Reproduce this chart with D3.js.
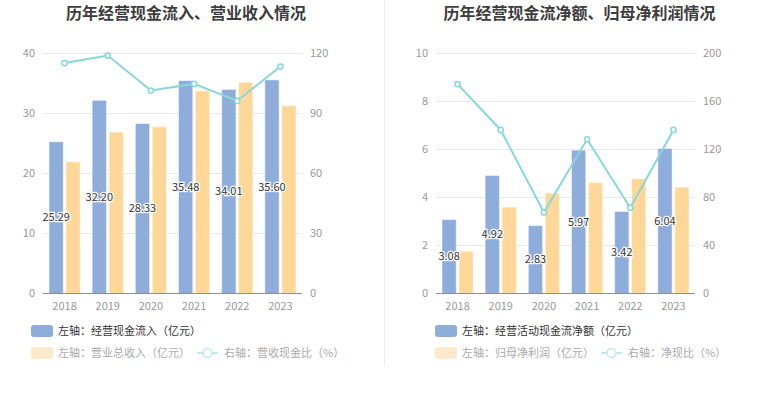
<!DOCTYPE html>
<html>
<head>
<meta charset="utf-8">
<script src="https://cdn.jsdelivr.net/npm/d3@7"></script>
<style>
  body { margin: 0; background: #fff; }
  svg text { font-family: "Noto Sans CJK SC", "Noto Sans", sans-serif; }
</style>
</head>
<body>
<div id="chart"></div>
<script>
// data
var years = ["2018", "2019", "2020", "2021", "2022", "2023"];

// left chart
var cashIn = [25.29, 32.20, 28.33, 35.48, 34.01, 35.60];
var revenue = [21.95, 26.9, 27.8, 33.8, 35.2, 31.3];
var cashRatio = [115.2, 119.0, 101.5, 104.8, 96.3, 113.5];
var leftTicksL = [0, 10, 20, 30, 40];
var leftTicksR = [0, 30, 60, 90, 120];

// right chart
var netCash = [3.08, 4.92, 2.83, 5.97, 3.42, 6.04];
var netProfit = [1.76, 3.60, 4.18, 4.62, 4.78, 4.43];
var netRatio = [174.5, 136.3, 67.6, 128.5, 71.5, 136.3];
var rightTicksL = [0, 2, 4, 6, 8, 10];
var rightTicksR = [0, 40, 80, 120, 160, 200];

var blue = "#8eaddb", orange = "#ffd899", teal = "#88d7da";

var svg = d3.select("#chart")
  .append("svg")
    .attr("width", 765)
    .attr("height", 393);

// separator
svg.append("line")
  .attr("x1", 384.5).attr("x2", 384.5)
  .attr("y1", 0).attr("y2", 366)
  .style("stroke", "#eeeeee");

function drawPanel(p) {
  var g = svg.append("g");

  // title
  g.append("text")
    .attr("x", p.titleX).attr("y", 19)
    .style("text-anchor", "middle")
    .style("font-size", "16px")
    .style("font-weight", "bold")
    .style("fill", "#3d3d3d")
    .text(p.title);

  var x = d3.scaleBand()
    .domain(years)
    .range([p.x0, p.x1]);

  var yl = d3.scaleLinear()
    .domain([0, d3.max(p.ticksL)])
    .range([293.5, 53.5]);

  var yr = d3.scaleLinear()
    .domain([0, d3.max(p.ticksR)])
    .range([293.5, 53.5]);

  var inner = d3.scaleBand()
    .domain(["a", "b"])
    .range([-15.6, 15.6])
    .paddingInner(0.154);

  // grid
  g.selectAll(".grid")
    .data(p.ticksL.slice(1))
    .enter()
    .append("line")
      .attr("x1", p.x0).attr("x2", p.x1)
      .attr("y1", function(d) { return yl(d); })
      .attr("y2", function(d) { return yl(d); })
      .style("stroke", "#e4e8f1");

  // left axis labels
  g.append("g").selectAll("text")
    .data(p.ticksL)
    .enter()
    .append("text")
      .attr("x", p.x0 - 8)
      .attr("y", function(d) { return yl(d); })
      .attr("dy", "0.35em")
      .style("text-anchor", "end")
      .style("font-size", "11px")
      .style("fill", "#999")
      .text(function(d) { return d; });

  // right axis labels
  g.append("g").selectAll("text")
    .data(p.ticksR)
    .enter()
    .append("text")
      .attr("x", p.x1 + 8)
      .attr("y", function(d) { return yr(d); })
      .attr("dy", "0.35em")
      .style("text-anchor", "start")
      .style("font-size", "11px")
      .style("fill", "#999")
      .text(function(d) { return d; });

  // bars
  var rows = years.map(function(y, i) {
    return {year: y, a: p.barA[i], b: p.barB[i], r: p.line[i]};
  });

  g.append("g").selectAll("rect")
    .data(rows)
    .enter()
    .append("rect")
      .attr("x", function(d) { return x(d.year) + x.bandwidth() / 2 + inner("a"); })
      .attr("y", function(d) { return yl(d.a); })
      .attr("width", inner.bandwidth())
      .attr("height", function(d) { return yl(0) - yl(d.a); })
      .style("fill", blue)
      .style("stroke", "rgba(255,255,255,0.5)");

  g.append("g").selectAll("rect")
    .data(rows)
    .enter()
    .append("rect")
      .attr("x", function(d) { return x(d.year) + x.bandwidth() / 2 + inner("b"); })
      .attr("y", function(d) { return yl(d.b); })
      .attr("width", inner.bandwidth())
      .attr("height", function(d) { return yl(0) - yl(d.b); })
      .style("fill", orange)
      .style("stroke", "rgba(255,255,255,0.5)");

  // x axis line
  g.append("line")
    .attr("x1", p.x0).attr("x2", p.x1)
    .attr("y1", yl(0)).attr("y2", yl(0))
    .style("stroke", "#8a8e96");

  // year labels
  g.append("g").selectAll("text")
    .data(years)
    .enter()
    .append("text")
      .attr("x", function(d) { return x(d) + x.bandwidth() / 2; })
      .attr("y", 306)
      .attr("dy", "0.35em")
      .style("text-anchor", "middle")
      .style("font-size", "11px")
      .style("fill", "#999")
      .text(function(d) { return d; });

  // ratio line
  var line = d3.line()
    .x(function(d) { return x(d.year) + x.bandwidth() / 2; })
    .y(function(d) { return yr(d.r); });

  g.append("path")
    .datum(rows)
    .attr("d", line)
    .style("fill", "none")
    .style("stroke", teal)
    .style("stroke-width", 2);

  g.append("g").selectAll("circle")
    .data(rows)
    .enter()
    .append("circle")
      .attr("cx", function(d) { return x(d.year) + x.bandwidth() / 2; })
      .attr("cy", function(d) { return yr(d.r); })
      .attr("r", 2.6)
      .style("fill", "#fff")
      .style("stroke", teal)
      .style("stroke-width", 1.5);

  // bar labels
  g.append("g").selectAll("text")
    .data(rows)
    .enter()
    .append("text")
      .attr("x", function(d) { return x(d.year) + x.bandwidth() / 2 + inner("a") + inner.bandwidth() / 2; })
      .attr("y", function(d) { return (yl(d.a) + yl(0)) / 2; })
      .attr("dy", "0.35em")
      .style("text-anchor", "middle")
      .style("font-size", "11px")
      .style("fill", "#333")
      .style("stroke", "#fff")
      .style("stroke-width", 2.5)
      .style("paint-order", "stroke")
      .text(function(d) { return d.a.toFixed(2); });

  // legend
  var lx = p.legendX;
  g.append("rect")
    .attr("x", lx).attr("y", 325)
    .attr("width", 22).attr("height", 12)
    .attr("rx", 3)
    .style("fill", blue);
  g.append("text")
    .attr("x", lx + 27).attr("y", 331)
    .attr("dy", "0.35em")
    .style("font-size", "11px")
    .style("fill", "#333")
    .text(p.legA);

  g.append("rect")
    .attr("x", lx).attr("y", 347)
    .attr("width", 22).attr("height", 12)
    .attr("rx", 3)
    .style("fill", "#fde9cb");
  g.append("text")
    .attr("x", lx + 27).attr("y", 353)
    .attr("dy", "0.35em")
    .style("font-size", "11px")
    .style("fill", "#aaa")
    .text(p.legB);

  var ix = p.legLineX;
  g.append("line")
    .attr("x1", ix).attr("x2", ix + 21)
    .attr("y1", 353).attr("y2", 353)
    .style("stroke", "#bfe9eb")
    .style("stroke-width", 2);
  g.append("circle")
    .attr("cx", ix + 10.5).attr("cy", 353)
    .attr("r", 4.5)
    .style("fill", "#fff")
    .style("stroke", "#bfe9eb")
    .style("stroke-width", 1.5);
  g.append("text")
    .attr("x", ix + 27).attr("y", 353)
    .attr("dy", "0.35em")
    .style("font-size", "11px")
    .style("fill", "#aaa")
    .text(p.legC);
}

drawPanel({
  title: "历年经营现金流入、营业收入情况",
  titleX: 186,
  x0: 43, x1: 302,
  ticksL: leftTicksL, ticksR: leftTicksR,
  barA: cashIn, barB: revenue, line: cashRatio,
  legendX: 31, legLineX: 197,
  legA: "左轴：经营现金流入（亿元）",
  legB: "左轴：营业总收入（亿元）",
  legC: "右轴：营收现金比（%）"
});

drawPanel({
  title: "历年经营现金流净额、归母净利润情况",
  titleX: 579.5,
  x0: 436, x1: 695,
  ticksL: rightTicksL, ticksR: rightTicksR,
  barA: netCash, barB: netProfit, line: netRatio,
  legendX: 435, legLineX: 601,
  legA: "左轴：经营活动现金流净额（亿元）",
  legB: "左轴：归母净利润（亿元）",
  legC: "右轴：净现比（%）"
});
</script>
</body>
</html>
